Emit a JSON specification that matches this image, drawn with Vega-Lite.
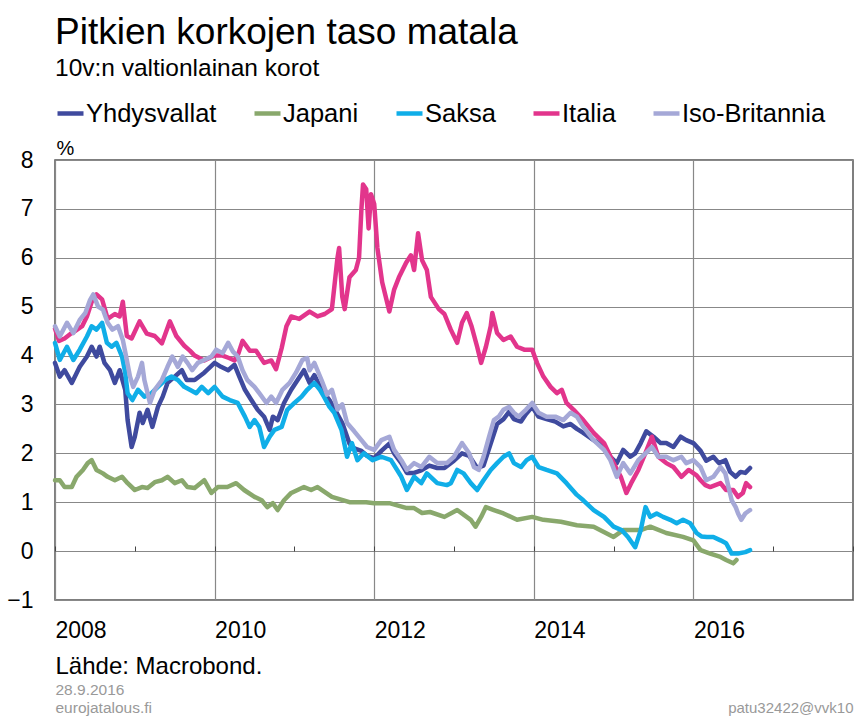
{
"$schema": "https://vega.github.io/schema/vega-lite/v6.json",
"width": 798, "height": 440,
"autosize": {"type": "none"},
"padding": {"left": 55, "top": 160, "right": 3, "bottom": 116},
"background": "white",
"config": {
 "font": "Liberation Sans",
 "view": {"stroke": "#555", "strokeWidth": 1.5},
 "axis": {"labelFont": "Liberation Sans", "titleFont": "Liberation Sans", "titleFontWeight": "normal"}
},
"title": {"text": "Pitkien korkojen taso matala", "subtitle": "10v:n valtionlainan korot", "anchor": "start", "frame": "group", "font": "Liberation Sans", "fontSize": 37, "fontWeight": "normal", "color": "#000", "subtitleFont": "Liberation Sans", "subtitleFontSize": 24.5, "subtitleColor": "#000", "subtitlePadding": 5, "offset": 17},
"data": {"values": [
{"s":"Yhdysvallat","t":2008.00,"v":3.85},{"s":"Yhdysvallat","t":2008.06,"v":3.57},{"s":"Yhdysvallat","t":2008.12,"v":3.7},{"s":"Yhdysvallat","t":2008.21,"v":3.44},{"s":"Yhdysvallat","t":2008.31,"v":3.77},{"s":"Yhdysvallat","t":2008.40,"v":3.98},{"s":"Yhdysvallat","t":2008.46,"v":4.18},{"s":"Yhdysvallat","t":2008.52,"v":3.98},{"s":"Yhdysvallat","t":2008.56,"v":4.18},{"s":"Yhdysvallat","t":2008.62,"v":3.85},{"s":"Yhdysvallat","t":2008.69,"v":3.7},{"s":"Yhdysvallat","t":2008.75,"v":3.44},{"s":"Yhdysvallat","t":2008.81,"v":3.7},{"s":"Yhdysvallat","t":2008.88,"v":3.3},{"s":"Yhdysvallat","t":2008.91,"v":2.68},{"s":"Yhdysvallat","t":2008.96,"v":2.13},{"s":"Yhdysvallat","t":2009.00,"v":2.34},{"s":"Yhdysvallat","t":2009.06,"v":2.83},{"s":"Yhdysvallat","t":2009.10,"v":2.62},{"s":"Yhdysvallat","t":2009.16,"v":2.89},{"s":"Yhdysvallat","t":2009.22,"v":2.54},{"s":"Yhdysvallat","t":2009.29,"v":2.95},{"s":"Yhdysvallat","t":2009.35,"v":3.16},{"s":"Yhdysvallat","t":2009.41,"v":3.44},{"s":"Yhdysvallat","t":2009.50,"v":3.57},{"s":"Yhdysvallat","t":2009.59,"v":3.7},{"s":"Yhdysvallat","t":2009.65,"v":3.5},{"s":"Yhdysvallat","t":2009.75,"v":3.5},{"s":"Yhdysvallat","t":2009.87,"v":3.65},{"s":"Yhdysvallat","t":2010.00,"v":3.85},{"s":"Yhdysvallat","t":2010.08,"v":3.77},{"s":"Yhdysvallat","t":2010.17,"v":3.7},{"s":"Yhdysvallat","t":2010.25,"v":3.81},{"s":"Yhdysvallat","t":2010.31,"v":3.57},{"s":"Yhdysvallat","t":2010.38,"v":3.3},{"s":"Yhdysvallat","t":2010.46,"v":3.09},{"s":"Yhdysvallat","t":2010.54,"v":2.89},{"s":"Yhdysvallat","t":2010.62,"v":2.75},{"s":"Yhdysvallat","t":2010.69,"v":2.48},{"s":"Yhdysvallat","t":2010.73,"v":2.75},{"s":"Yhdysvallat","t":2010.79,"v":2.68},{"s":"Yhdysvallat","t":2010.87,"v":3.03},{"s":"Yhdysvallat","t":2010.96,"v":3.3},{"s":"Yhdysvallat","t":2011.04,"v":3.5},{"s":"Yhdysvallat","t":2011.12,"v":3.7},{"s":"Yhdysvallat","t":2011.19,"v":3.44},{"s":"Yhdysvallat","t":2011.25,"v":3.6},{"s":"Yhdysvallat","t":2011.34,"v":3.3},{"s":"Yhdysvallat","t":2011.44,"v":3.09},{"s":"Yhdysvallat","t":2011.53,"v":2.83},{"s":"Yhdysvallat","t":2011.60,"v":2.62},{"s":"Yhdysvallat","t":2011.69,"v":2.2},{"s":"Yhdysvallat","t":2011.75,"v":2.1},{"s":"Yhdysvallat","t":2011.84,"v":2.05},{"s":"Yhdysvallat","t":2011.91,"v":1.95},{"s":"Yhdysvallat","t":2012.00,"v":1.9},{"s":"Yhdysvallat","t":2012.09,"v":2.05},{"s":"Yhdysvallat","t":2012.19,"v":2.2},{"s":"Yhdysvallat","t":2012.25,"v":2.0},{"s":"Yhdysvallat","t":2012.34,"v":1.8},{"s":"Yhdysvallat","t":2012.41,"v":1.6},{"s":"Yhdysvallat","t":2012.50,"v":1.6},{"s":"Yhdysvallat","t":2012.59,"v":1.65},{"s":"Yhdysvallat","t":2012.69,"v":1.75},{"s":"Yhdysvallat","t":2012.79,"v":1.7},{"s":"Yhdysvallat","t":2012.88,"v":1.7},{"s":"Yhdysvallat","t":2013.00,"v":1.85},{"s":"Yhdysvallat","t":2013.10,"v":2.0},{"s":"Yhdysvallat","t":2013.19,"v":1.95},{"s":"Yhdysvallat","t":2013.29,"v":1.7},{"s":"Yhdysvallat","t":2013.37,"v":1.75},{"s":"Yhdysvallat","t":2013.46,"v":2.2},{"s":"Yhdysvallat","t":2013.54,"v":2.6},{"s":"Yhdysvallat","t":2013.62,"v":2.7},{"s":"Yhdysvallat","t":2013.69,"v":2.85},{"s":"Yhdysvallat","t":2013.75,"v":2.7},{"s":"Yhdysvallat","t":2013.84,"v":2.65},{"s":"Yhdysvallat","t":2013.90,"v":2.8},{"s":"Yhdysvallat","t":2013.98,"v":2.95},{"s":"Yhdysvallat","t":2014.06,"v":2.75},{"s":"Yhdysvallat","t":2014.16,"v":2.7},{"s":"Yhdysvallat","t":2014.27,"v":2.65},{"s":"Yhdysvallat","t":2014.37,"v":2.55},{"s":"Yhdysvallat","t":2014.46,"v":2.6},{"s":"Yhdysvallat","t":2014.54,"v":2.5},{"s":"Yhdysvallat","t":2014.62,"v":2.42},{"s":"Yhdysvallat","t":2014.75,"v":2.27},{"s":"Yhdysvallat","t":2014.88,"v":2.13},{"s":"Yhdysvallat","t":2014.96,"v":1.93},{"s":"Yhdysvallat","t":2015.04,"v":1.8},{"s":"Yhdysvallat","t":2015.12,"v":2.07},{"s":"Yhdysvallat","t":2015.21,"v":1.93},{"s":"Yhdysvallat","t":2015.27,"v":2.0},{"s":"Yhdysvallat","t":2015.34,"v":2.21},{"s":"Yhdysvallat","t":2015.41,"v":2.45},{"s":"Yhdysvallat","t":2015.50,"v":2.34},{"s":"Yhdysvallat","t":2015.59,"v":2.21},{"s":"Yhdysvallat","t":2015.66,"v":2.21},{"s":"Yhdysvallat","t":2015.75,"v":2.13},{"s":"Yhdysvallat","t":2015.84,"v":2.34},{"s":"Yhdysvallat","t":2015.91,"v":2.27},{"s":"Yhdysvallat","t":2016.00,"v":2.21},{"s":"Yhdysvallat","t":2016.09,"v":2.05},{"s":"Yhdysvallat","t":2016.16,"v":1.85},{"s":"Yhdysvallat","t":2016.25,"v":1.93},{"s":"Yhdysvallat","t":2016.32,"v":1.8},{"s":"Yhdysvallat","t":2016.40,"v":1.86},{"s":"Yhdysvallat","t":2016.46,"v":1.62},{"s":"Yhdysvallat","t":2016.53,"v":1.52},{"s":"Yhdysvallat","t":2016.59,"v":1.62},{"s":"Yhdysvallat","t":2016.65,"v":1.6},{"s":"Yhdysvallat","t":2016.71,"v":1.7},
{"s":"Japani","t":2008.00,"v":1.45},{"s":"Japani","t":2008.06,"v":1.45},{"s":"Japani","t":2008.12,"v":1.31},{"s":"Japani","t":2008.21,"v":1.31},{"s":"Japani","t":2008.27,"v":1.52},{"s":"Japani","t":2008.35,"v":1.66},{"s":"Japani","t":2008.41,"v":1.8},{"s":"Japani","t":2008.46,"v":1.86},{"s":"Japani","t":2008.52,"v":1.66},{"s":"Japani","t":2008.60,"v":1.59},{"s":"Japani","t":2008.66,"v":1.52},{"s":"Japani","t":2008.75,"v":1.45},{"s":"Japani","t":2008.84,"v":1.52},{"s":"Japani","t":2008.91,"v":1.39},{"s":"Japani","t":2009.00,"v":1.25},{"s":"Japani","t":2009.09,"v":1.31},{"s":"Japani","t":2009.16,"v":1.29},{"s":"Japani","t":2009.25,"v":1.41},{"s":"Japani","t":2009.34,"v":1.45},{"s":"Japani","t":2009.41,"v":1.52},{"s":"Japani","t":2009.50,"v":1.39},{"s":"Japani","t":2009.59,"v":1.45},{"s":"Japani","t":2009.66,"v":1.31},{"s":"Japani","t":2009.75,"v":1.29},{"s":"Japani","t":2009.87,"v":1.45},{"s":"Japani","t":2009.96,"v":1.19},{"s":"Japani","t":2010.04,"v":1.31},{"s":"Japani","t":2010.16,"v":1.31},{"s":"Japani","t":2010.27,"v":1.39},{"s":"Japani","t":2010.37,"v":1.25},{"s":"Japani","t":2010.50,"v":1.11},{"s":"Japani","t":2010.59,"v":1.04},{"s":"Japani","t":2010.66,"v":0.9},{"s":"Japani","t":2010.73,"v":0.98},{"s":"Japani","t":2010.79,"v":0.84},{"s":"Japani","t":2010.87,"v":1.04},{"s":"Japani","t":2010.96,"v":1.19},{"s":"Japani","t":2011.04,"v":1.25},{"s":"Japani","t":2011.12,"v":1.31},{"s":"Japani","t":2011.21,"v":1.25},{"s":"Japani","t":2011.29,"v":1.31},{"s":"Japani","t":2011.47,"v":1.11},{"s":"Japani","t":2011.69,"v":1.0},{"s":"Japani","t":2011.90,"v":1.0},{"s":"Japani","t":2012.00,"v":0.98},{"s":"Japani","t":2012.19,"v":0.98},{"s":"Japani","t":2012.41,"v":0.88},{"s":"Japani","t":2012.50,"v":0.88},{"s":"Japani","t":2012.60,"v":0.78},{"s":"Japani","t":2012.70,"v":0.8},{"s":"Japani","t":2012.88,"v":0.7},{"s":"Japani","t":2013.04,"v":0.84},{"s":"Japani","t":2013.21,"v":0.64},{"s":"Japani","t":2013.27,"v":0.5},{"s":"Japani","t":2013.34,"v":0.7},{"s":"Japani","t":2013.40,"v":0.9},{"s":"Japani","t":2013.50,"v":0.84},{"s":"Japani","t":2013.62,"v":0.77},{"s":"Japani","t":2013.79,"v":0.64},{"s":"Japani","t":2013.98,"v":0.7},{"s":"Japani","t":2014.12,"v":0.64},{"s":"Japani","t":2014.34,"v":0.6},{"s":"Japani","t":2014.54,"v":0.53},{"s":"Japani","t":2014.75,"v":0.5},{"s":"Japani","t":2015.00,"v":0.29},{"s":"Japani","t":2015.12,"v":0.43},{"s":"Japani","t":2015.34,"v":0.43},{"s":"Japani","t":2015.46,"v":0.5},{"s":"Japani","t":2015.66,"v":0.37},{"s":"Japani","t":2015.87,"v":0.29},{"s":"Japani","t":2016.00,"v":0.22},{"s":"Japani","t":2016.09,"v":0.02},{"s":"Japani","t":2016.21,"v":-0.05},{"s":"Japani","t":2016.34,"v":-0.12},{"s":"Japani","t":2016.41,"v":-0.18},{"s":"Japani","t":2016.50,"v":-0.25},{"s":"Japani","t":2016.54,"v":-0.18},
{"s":"Saksa","t":2008.00,"v":4.26},{"s":"Saksa","t":2008.06,"v":3.91},{"s":"Saksa","t":2008.15,"v":4.18},{"s":"Saksa","t":2008.23,"v":3.91},{"s":"Saksa","t":2008.31,"v":4.12},{"s":"Saksa","t":2008.40,"v":4.39},{"s":"Saksa","t":2008.46,"v":4.6},{"s":"Saksa","t":2008.52,"v":4.53},{"s":"Saksa","t":2008.59,"v":4.67},{"s":"Saksa","t":2008.65,"v":4.26},{"s":"Saksa","t":2008.71,"v":4.18},{"s":"Saksa","t":2008.77,"v":4.26},{"s":"Saksa","t":2008.84,"v":3.98},{"s":"Saksa","t":2008.88,"v":3.65},{"s":"Saksa","t":2008.91,"v":3.23},{"s":"Saksa","t":2008.97,"v":3.09},{"s":"Saksa","t":2009.04,"v":3.3},{"s":"Saksa","t":2009.12,"v":3.16},{"s":"Saksa","t":2009.21,"v":3.23},{"s":"Saksa","t":2009.29,"v":3.36},{"s":"Saksa","t":2009.38,"v":3.5},{"s":"Saksa","t":2009.46,"v":3.57},{"s":"Saksa","t":2009.54,"v":3.5},{"s":"Saksa","t":2009.62,"v":3.36},{"s":"Saksa","t":2009.69,"v":3.3},{"s":"Saksa","t":2009.77,"v":3.23},{"s":"Saksa","t":2009.84,"v":3.36},{"s":"Saksa","t":2009.92,"v":3.23},{"s":"Saksa","t":2010.00,"v":3.36},{"s":"Saksa","t":2010.10,"v":3.16},{"s":"Saksa","t":2010.19,"v":3.09},{"s":"Saksa","t":2010.29,"v":3.03},{"s":"Saksa","t":2010.38,"v":2.75},{"s":"Saksa","t":2010.44,"v":2.54},{"s":"Saksa","t":2010.50,"v":2.68},{"s":"Saksa","t":2010.56,"v":2.54},{"s":"Saksa","t":2010.62,"v":2.13},{"s":"Saksa","t":2010.69,"v":2.34},{"s":"Saksa","t":2010.75,"v":2.48},{"s":"Saksa","t":2010.84,"v":2.54},{"s":"Saksa","t":2010.91,"v":2.89},{"s":"Saksa","t":2011.00,"v":3.03},{"s":"Saksa","t":2011.09,"v":3.16},{"s":"Saksa","t":2011.16,"v":3.3},{"s":"Saksa","t":2011.25,"v":3.44},{"s":"Saksa","t":2011.32,"v":3.3},{"s":"Saksa","t":2011.37,"v":3.16},{"s":"Saksa","t":2011.44,"v":2.95},{"s":"Saksa","t":2011.50,"v":2.83},{"s":"Saksa","t":2011.59,"v":2.48},{"s":"Saksa","t":2011.66,"v":1.93},{"s":"Saksa","t":2011.72,"v":2.21},{"s":"Saksa","t":2011.79,"v":1.86},{"s":"Saksa","t":2011.87,"v":2.0},{"s":"Saksa","t":2011.98,"v":1.86},{"s":"Saksa","t":2012.09,"v":1.93},{"s":"Saksa","t":2012.21,"v":1.86},{"s":"Saksa","t":2012.34,"v":1.52},{"s":"Saksa","t":2012.41,"v":1.25},{"s":"Saksa","t":2012.50,"v":1.52},{"s":"Saksa","t":2012.59,"v":1.39},{"s":"Saksa","t":2012.66,"v":1.59},{"s":"Saksa","t":2012.79,"v":1.39},{"s":"Saksa","t":2012.91,"v":1.35},{"s":"Saksa","t":2012.96,"v":1.39},{"s":"Saksa","t":2013.04,"v":1.66},{"s":"Saksa","t":2013.12,"v":1.59},{"s":"Saksa","t":2013.21,"v":1.39},{"s":"Saksa","t":2013.29,"v":1.25},{"s":"Saksa","t":2013.37,"v":1.45},{"s":"Saksa","t":2013.46,"v":1.66},{"s":"Saksa","t":2013.54,"v":1.8},{"s":"Saksa","t":2013.62,"v":1.93},{"s":"Saksa","t":2013.69,"v":2.0},{"s":"Saksa","t":2013.75,"v":1.8},{"s":"Saksa","t":2013.84,"v":1.72},{"s":"Saksa","t":2013.91,"v":1.86},{"s":"Saksa","t":2013.98,"v":1.93},{"s":"Saksa","t":2014.06,"v":1.72},{"s":"Saksa","t":2014.16,"v":1.66},{"s":"Saksa","t":2014.29,"v":1.59},{"s":"Saksa","t":2014.41,"v":1.39},{"s":"Saksa","t":2014.54,"v":1.15},{"s":"Saksa","t":2014.62,"v":1.04},{"s":"Saksa","t":2014.75,"v":0.84},{"s":"Saksa","t":2014.88,"v":0.7},{"s":"Saksa","t":2015.00,"v":0.5},{"s":"Saksa","t":2015.10,"v":0.43},{"s":"Saksa","t":2015.18,"v":0.29},{"s":"Saksa","t":2015.27,"v":0.08},{"s":"Saksa","t":2015.34,"v":0.43},{"s":"Saksa","t":2015.40,"v":0.9},{"s":"Saksa","t":2015.46,"v":0.7},{"s":"Saksa","t":2015.54,"v":0.77},{"s":"Saksa","t":2015.62,"v":0.7},{"s":"Saksa","t":2015.71,"v":0.64},{"s":"Saksa","t":2015.79,"v":0.57},{"s":"Saksa","t":2015.87,"v":0.64},{"s":"Saksa","t":2015.96,"v":0.57},{"s":"Saksa","t":2016.04,"v":0.37},{"s":"Saksa","t":2016.10,"v":0.3},{"s":"Saksa","t":2016.17,"v":0.29},{"s":"Saksa","t":2016.25,"v":0.29},{"s":"Saksa","t":2016.34,"v":0.22},{"s":"Saksa","t":2016.41,"v":0.16},{"s":"Saksa","t":2016.48,"v":-0.05},{"s":"Saksa","t":2016.56,"v":-0.05},{"s":"Saksa","t":2016.65,"v":-0.02},{"s":"Saksa","t":2016.71,"v":0.02},
{"s":"Italia","t":2008.00,"v":4.55},{"s":"Italia","t":2008.05,"v":4.3},{"s":"Italia","t":2008.12,"v":4.35},{"s":"Italia","t":2008.20,"v":4.45},{"s":"Italia","t":2008.25,"v":4.5},{"s":"Italia","t":2008.34,"v":4.6},{"s":"Italia","t":2008.40,"v":4.8},{"s":"Italia","t":2008.46,"v":5.1},{"s":"Italia","t":2008.52,"v":5.25},{"s":"Italia","t":2008.59,"v":5.15},{"s":"Italia","t":2008.66,"v":4.75},{"s":"Italia","t":2008.75,"v":4.85},{"s":"Italia","t":2008.81,"v":4.8},{"s":"Italia","t":2008.85,"v":5.1},{"s":"Italia","t":2008.90,"v":4.4},{"s":"Italia","t":2008.96,"v":4.35},{"s":"Italia","t":2009.06,"v":4.7},{"s":"Italia","t":2009.15,"v":4.45},{"s":"Italia","t":2009.25,"v":4.4},{"s":"Italia","t":2009.34,"v":4.25},{"s":"Italia","t":2009.44,"v":4.7},{"s":"Italia","t":2009.52,"v":4.4},{"s":"Italia","t":2009.62,"v":4.2},{"s":"Italia","t":2009.69,"v":4.1},{"s":"Italia","t":2009.75,"v":4.0},{"s":"Italia","t":2009.87,"v":3.9},{"s":"Italia","t":2010.00,"v":4.0},{"s":"Italia","t":2010.10,"v":4.0},{"s":"Italia","t":2010.18,"v":3.95},{"s":"Italia","t":2010.25,"v":3.9},{"s":"Italia","t":2010.30,"v":4.05},{"s":"Italia","t":2010.35,"v":4.3},{"s":"Italia","t":2010.44,"v":4.1},{"s":"Italia","t":2010.52,"v":4.1},{"s":"Italia","t":2010.62,"v":3.85},{"s":"Italia","t":2010.71,"v":3.9},{"s":"Italia","t":2010.77,"v":3.72},{"s":"Italia","t":2010.84,"v":4.15},{"s":"Italia","t":2010.90,"v":4.6},{"s":"Italia","t":2010.96,"v":4.8},{"s":"Italia","t":2011.06,"v":4.75},{"s":"Italia","t":2011.19,"v":4.9},{"s":"Italia","t":2011.29,"v":4.8},{"s":"Italia","t":2011.38,"v":4.85},{"s":"Italia","t":2011.47,"v":4.95},{"s":"Italia","t":2011.54,"v":6.0},{"s":"Italia","t":2011.56,"v":6.2},{"s":"Italia","t":2011.60,"v":5.2},{"s":"Italia","t":2011.63,"v":4.95},{"s":"Italia","t":2011.69,"v":5.6},{"s":"Italia","t":2011.77,"v":5.75},{"s":"Italia","t":2011.81,"v":6.0},{"s":"Italia","t":2011.84,"v":7.0},{"s":"Italia","t":2011.86,"v":7.5},{"s":"Italia","t":2011.90,"v":7.4},{"s":"Italia","t":2011.93,"v":6.6},{"s":"Italia","t":2011.96,"v":7.3},{"s":"Italia","t":2012.00,"v":7.1},{"s":"Italia","t":2012.04,"v":6.2},{"s":"Italia","t":2012.10,"v":5.5},{"s":"Italia","t":2012.19,"v":4.9},{"s":"Italia","t":2012.25,"v":5.35},{"s":"Italia","t":2012.31,"v":5.6},{"s":"Italia","t":2012.40,"v":5.9},{"s":"Italia","t":2012.46,"v":6.05},{"s":"Italia","t":2012.50,"v":5.75},{"s":"Italia","t":2012.55,"v":6.5},{"s":"Italia","t":2012.60,"v":5.95},{"s":"Italia","t":2012.66,"v":5.75},{"s":"Italia","t":2012.71,"v":5.2},{"s":"Italia","t":2012.81,"v":4.95},{"s":"Italia","t":2012.88,"v":4.85},{"s":"Italia","t":2012.96,"v":4.53},{"s":"Italia","t":2013.04,"v":4.26},{"s":"Italia","t":2013.10,"v":4.67},{"s":"Italia","t":2013.16,"v":4.87},{"s":"Italia","t":2013.22,"v":4.6},{"s":"Italia","t":2013.29,"v":4.18},{"s":"Italia","t":2013.34,"v":3.85},{"s":"Italia","t":2013.40,"v":4.18},{"s":"Italia","t":2013.46,"v":4.6},{"s":"Italia","t":2013.48,"v":4.87},{"s":"Italia","t":2013.54,"v":4.46},{"s":"Italia","t":2013.62,"v":4.32},{"s":"Italia","t":2013.71,"v":4.39},{"s":"Italia","t":2013.79,"v":4.18},{"s":"Italia","t":2013.88,"v":4.12},{"s":"Italia","t":2013.98,"v":4.12},{"s":"Italia","t":2014.04,"v":3.85},{"s":"Italia","t":2014.12,"v":3.57},{"s":"Italia","t":2014.21,"v":3.36},{"s":"Italia","t":2014.29,"v":3.23},{"s":"Italia","t":2014.35,"v":3.3},{"s":"Italia","t":2014.41,"v":3.03},{"s":"Italia","t":2014.50,"v":2.89},{"s":"Italia","t":2014.62,"v":2.68},{"s":"Italia","t":2014.75,"v":2.42},{"s":"Italia","t":2014.88,"v":2.21},{"s":"Italia","t":2015.00,"v":1.8},{"s":"Italia","t":2015.09,"v":1.52},{"s":"Italia","t":2015.16,"v":1.19},{"s":"Italia","t":2015.22,"v":1.39},{"s":"Italia","t":2015.31,"v":1.66},{"s":"Italia","t":2015.40,"v":2.01},{"s":"Italia","t":2015.48,"v":2.34},{"s":"Italia","t":2015.56,"v":1.93},{"s":"Italia","t":2015.66,"v":1.8},{"s":"Italia","t":2015.75,"v":1.72},{"s":"Italia","t":2015.85,"v":1.52},{"s":"Italia","t":2015.94,"v":1.66},{"s":"Italia","t":2016.04,"v":1.55},{"s":"Italia","t":2016.09,"v":1.45},{"s":"Italia","t":2016.15,"v":1.35},{"s":"Italia","t":2016.21,"v":1.31},{"s":"Italia","t":2016.34,"v":1.39},{"s":"Italia","t":2016.41,"v":1.25},{"s":"Italia","t":2016.50,"v":1.25},{"s":"Italia","t":2016.56,"v":1.11},{"s":"Italia","t":2016.62,"v":1.19},{"s":"Italia","t":2016.66,"v":1.39},{"s":"Italia","t":2016.71,"v":1.31},
{"s":"Iso-Britannia","t":2008.00,"v":4.6},{"s":"Iso-Britannia","t":2008.06,"v":4.39},{"s":"Iso-Britannia","t":2008.15,"v":4.67},{"s":"Iso-Britannia","t":2008.23,"v":4.46},{"s":"Iso-Britannia","t":2008.31,"v":4.73},{"s":"Iso-Britannia","t":2008.38,"v":4.87},{"s":"Iso-Britannia","t":2008.44,"v":5.14},{"s":"Iso-Britannia","t":2008.48,"v":5.25},{"s":"Iso-Britannia","t":2008.54,"v":5.0},{"s":"Iso-Britannia","t":2008.60,"v":4.94},{"s":"Iso-Britannia","t":2008.66,"v":4.67},{"s":"Iso-Britannia","t":2008.72,"v":4.53},{"s":"Iso-Britannia","t":2008.79,"v":4.6},{"s":"Iso-Britannia","t":2008.85,"v":4.32},{"s":"Iso-Britannia","t":2008.90,"v":3.91},{"s":"Iso-Britannia","t":2008.94,"v":3.57},{"s":"Iso-Britannia","t":2008.98,"v":3.36},{"s":"Iso-Britannia","t":2009.04,"v":3.57},{"s":"Iso-Britannia","t":2009.09,"v":3.85},{"s":"Iso-Britannia","t":2009.12,"v":3.5},{"s":"Iso-Britannia","t":2009.19,"v":3.03},{"s":"Iso-Britannia","t":2009.25,"v":3.3},{"s":"Iso-Britannia","t":2009.34,"v":3.5},{"s":"Iso-Britannia","t":2009.41,"v":3.77},{"s":"Iso-Britannia","t":2009.47,"v":3.98},{"s":"Iso-Britannia","t":2009.54,"v":3.77},{"s":"Iso-Britannia","t":2009.60,"v":3.98},{"s":"Iso-Britannia","t":2009.66,"v":3.85},{"s":"Iso-Britannia","t":2009.72,"v":3.7},{"s":"Iso-Britannia","t":2009.79,"v":3.85},{"s":"Iso-Britannia","t":2009.87,"v":3.91},{"s":"Iso-Britannia","t":2009.96,"v":3.98},{"s":"Iso-Britannia","t":2010.02,"v":4.12},{"s":"Iso-Britannia","t":2010.10,"v":4.05},{"s":"Iso-Britannia","t":2010.17,"v":4.26},{"s":"Iso-Britannia","t":2010.23,"v":4.08},{"s":"Iso-Britannia","t":2010.29,"v":3.98},{"s":"Iso-Britannia","t":2010.35,"v":3.7},{"s":"Iso-Britannia","t":2010.41,"v":3.5},{"s":"Iso-Britannia","t":2010.50,"v":3.36},{"s":"Iso-Britannia","t":2010.56,"v":3.23},{"s":"Iso-Britannia","t":2010.65,"v":3.03},{"s":"Iso-Britannia","t":2010.71,"v":3.16},{"s":"Iso-Britannia","t":2010.77,"v":3.03},{"s":"Iso-Britannia","t":2010.85,"v":3.3},{"s":"Iso-Britannia","t":2010.94,"v":3.44},{"s":"Iso-Britannia","t":2011.02,"v":3.65},{"s":"Iso-Britannia","t":2011.10,"v":3.91},{"s":"Iso-Britannia","t":2011.16,"v":3.95},{"s":"Iso-Britannia","t":2011.19,"v":3.7},{"s":"Iso-Britannia","t":2011.25,"v":3.85},{"s":"Iso-Britannia","t":2011.34,"v":3.5},{"s":"Iso-Britannia","t":2011.41,"v":3.2},{"s":"Iso-Britannia","t":2011.47,"v":3.3},{"s":"Iso-Britannia","t":2011.54,"v":2.9},{"s":"Iso-Britannia","t":2011.60,"v":3.0},{"s":"Iso-Britannia","t":2011.66,"v":2.62},{"s":"Iso-Britannia","t":2011.75,"v":2.45},{"s":"Iso-Britannia","t":2011.84,"v":2.27},{"s":"Iso-Britannia","t":2011.91,"v":2.13},{"s":"Iso-Britannia","t":2012.00,"v":2.07},{"s":"Iso-Britannia","t":2012.09,"v":2.27},{"s":"Iso-Britannia","t":2012.19,"v":2.34},{"s":"Iso-Britannia","t":2012.25,"v":2.07},{"s":"Iso-Britannia","t":2012.34,"v":1.86},{"s":"Iso-Britannia","t":2012.41,"v":1.66},{"s":"Iso-Britannia","t":2012.50,"v":1.8},{"s":"Iso-Britannia","t":2012.59,"v":1.72},{"s":"Iso-Britannia","t":2012.69,"v":1.93},{"s":"Iso-Britannia","t":2012.79,"v":1.8},{"s":"Iso-Britannia","t":2012.91,"v":1.8},{"s":"Iso-Britannia","t":2013.00,"v":1.93},{"s":"Iso-Britannia","t":2013.10,"v":2.21},{"s":"Iso-Britannia","t":2013.19,"v":2.0},{"s":"Iso-Britannia","t":2013.25,"v":1.72},{"s":"Iso-Britannia","t":2013.31,"v":1.66},{"s":"Iso-Britannia","t":2013.37,"v":1.93},{"s":"Iso-Britannia","t":2013.44,"v":2.34},{"s":"Iso-Britannia","t":2013.50,"v":2.68},{"s":"Iso-Britannia","t":2013.56,"v":2.75},{"s":"Iso-Britannia","t":2013.62,"v":2.89},{"s":"Iso-Britannia","t":2013.69,"v":2.95},{"s":"Iso-Britannia","t":2013.75,"v":2.83},{"s":"Iso-Britannia","t":2013.81,"v":2.75},{"s":"Iso-Britannia","t":2013.90,"v":2.89},{"s":"Iso-Britannia","t":2013.98,"v":3.03},{"s":"Iso-Britannia","t":2014.06,"v":2.83},{"s":"Iso-Britannia","t":2014.16,"v":2.75},{"s":"Iso-Britannia","t":2014.27,"v":2.75},{"s":"Iso-Britannia","t":2014.37,"v":2.68},{"s":"Iso-Britannia","t":2014.46,"v":2.83},{"s":"Iso-Britannia","t":2014.54,"v":2.75},{"s":"Iso-Britannia","t":2014.62,"v":2.54},{"s":"Iso-Britannia","t":2014.75,"v":2.27},{"s":"Iso-Britannia","t":2014.88,"v":2.07},{"s":"Iso-Britannia","t":2014.96,"v":1.86},{"s":"Iso-Britannia","t":2015.04,"v":1.52},{"s":"Iso-Britannia","t":2015.12,"v":1.8},{"s":"Iso-Britannia","t":2015.21,"v":1.59},{"s":"Iso-Britannia","t":2015.31,"v":1.86},{"s":"Iso-Britannia","t":2015.40,"v":2.0},{"s":"Iso-Britannia","t":2015.48,"v":2.13},{"s":"Iso-Britannia","t":2015.56,"v":1.93},{"s":"Iso-Britannia","t":2015.66,"v":1.93},{"s":"Iso-Britannia","t":2015.75,"v":1.86},{"s":"Iso-Britannia","t":2015.85,"v":1.93},{"s":"Iso-Britannia","t":2015.91,"v":1.8},{"s":"Iso-Britannia","t":2016.00,"v":1.86},{"s":"Iso-Britannia","t":2016.09,"v":1.72},{"s":"Iso-Britannia","t":2016.16,"v":1.45},{"s":"Iso-Britannia","t":2016.25,"v":1.52},{"s":"Iso-Britannia","t":2016.34,"v":1.72},{"s":"Iso-Britannia","t":2016.40,"v":1.59},{"s":"Iso-Britannia","t":2016.44,"v":1.31},{"s":"Iso-Britannia","t":2016.48,"v":1.04},{"s":"Iso-Britannia","t":2016.53,"v":0.9},{"s":"Iso-Britannia","t":2016.56,"v":0.77},{"s":"Iso-Britannia","t":2016.60,"v":0.64},{"s":"Iso-Britannia","t":2016.65,"v":0.77},{"s":"Iso-Britannia","t":2016.71,"v":0.84}
]},
"layer": [
 {
  "mark": {"type": "line", "strokeWidth": 4.5, "strokeJoin": "round", "strokeCap": "round"},
  "encoding": {
   "x": {"field": "t", "type": "quantitative", "scale": {"domain": [2008, 2018], "nice": false, "zero": false},
     "axis": {"orient": "bottom", "values": [2008, 2010, 2012, 2014, 2016], "format": "d", "labelAlign": "left", "labelBaseline": "top", "labelPadding": 19, "labelFontSize": 23, "labelColor": "#000", "labelFlush": false, "labelOverlap": false, "ticks": false, "tickSize": 0, "domain": false, "grid": true, "gridColor": "#888", "gridWidth": 1.2,
       "title": "Lähde: Macrobond.", "titleFontSize": 24, "titleColor": "#000", "titleAnchor": "start", "titleAlign": "left", "titleBaseline": "alphabetic", "titleX": 0, "titleY": 73}},
   "y": {"field": "v", "type": "quantitative", "scale": {"domain": [-1, 8], "nice": false, "zero": false},
     "axis": {"orient": "left", "values": [-1, 0, 1, 2, 3, 4, 5, 6, 7, 8], "labelFontSize": 23, "labelColor": "#000", "labelPadding": 22, "ticks": false, "tickSize": 0, "domain": false, "grid": true, "gridColor": "#888", "gridWidth": 1.2,
       "title": "%", "titleAngle": 0, "titleAlign": "left", "titleBaseline": "bottom", "titleX": 1, "titleY": -2, "titleFontSize": 20, "titleColor": "#000"}},
   "color": {"field": "s", "type": "nominal", "sort": ["Yhdysvallat", "Japani", "Saksa", "Italia", "Iso-Britannia"],
     "scale": {"domain": ["Yhdysvallat", "Japani", "Saksa", "Italia", "Iso-Britannia"], "range": ["#3f4a9e", "#89a86c", "#10aee8", "#e2358c", "#a5a8d7"]},
     "legend": {"orient": "none", "legendX": 0, "legendY": -62, "direction": "horizontal", "columns": 5, "title": null, "symbolType": "stroke", "symbolSize": 676, "symbolStrokeWidth": 4.5, "labelFontSize": 25.5, "labelFont": "Liberation Sans", "labelColor": "#000", "labelOffset": 0, "columnPadding": 28, "padding": 0, "labelLimit": 300}}
  }
 },
 {
  "mark": {"type": "line", "strokeOpacity": 0, "opacity": 0},
  "encoding": {
   "x": {"field": "t", "type": "quantitative",
     "axis": {"orient": "top", "offset": -391, "values": [2008, 2009, 2010, 2011, 2012, 2013, 2014, 2015, 2016, 2017, 2018], "labels": false, "domain": false, "grid": false, "ticks": true, "tickSize": 5, "tickColor": "#444", "tickWidth": 1,
       "title": ["28.9.2016", "eurojatalous.fi"], "titleFontSize": 15.5, "titleColor": "#999", "titleAnchor": "start", "titleAlign": "left", "titleBaseline": "alphabetic", "titleX": 0, "titleY": 143, "titleLineHeight": 18}},
   "y": {"field": "v", "type": "quantitative",
     "axis": {"orient": "right", "labels": false, "ticks": false, "domain": false, "grid": false,
       "title": "patu32422@vvk10", "titleAngle": 0, "titleAlign": "right", "titleBaseline": "alphabetic", "titleX": 0, "titleY": 552, "titleFontSize": 15, "titleColor": "#999"}},
   "detail": {"field": "s"}
  }
 }
],
"resolve": {"axis": {"x": "independent", "y": "independent"}}
}
